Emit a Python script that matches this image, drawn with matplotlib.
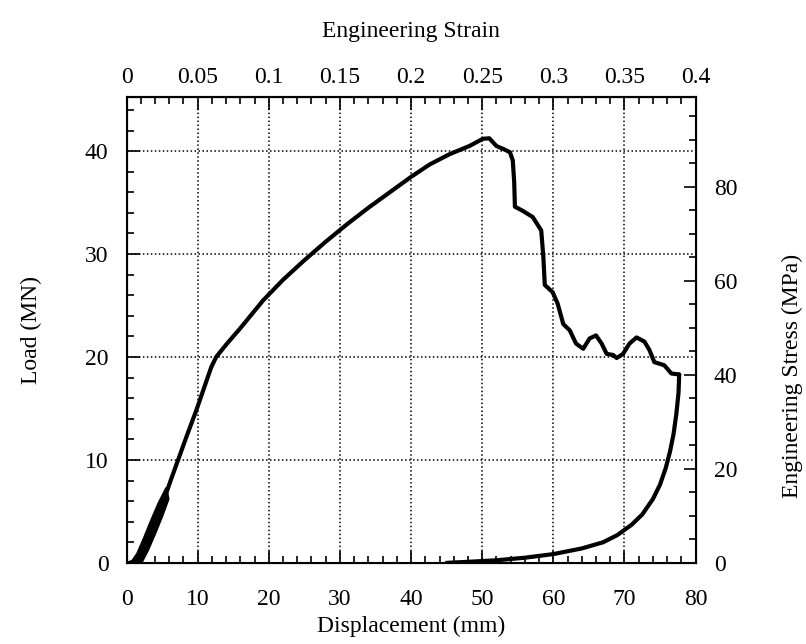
import numpy as np
import matplotlib
matplotlib.use("Agg")
import matplotlib.pyplot as plt

# loading-unloading record
band_left_disp = [0.0, 0.8, 1.5, 2.5, 3.5, 4.5, 5.6]
band_left_load = [0.0, 0.2, 0.9, 2.5, 4.2, 5.8, 7.3]
band_right_disp = [5.9, 5.0, 4.0, 3.0, 2.1]
band_right_load = [6.2, 4.5, 2.8, 1.2, 0.0]

disp_load = [5.0, 5.6, 6.2, 7.25, 8.5, 9.8, 11.0, 11.9, 12.6, 14.0, 16.0, 19.2,
             22.0, 25.0, 28.0, 31.0, 34.0, 37.0, 40.0, 42.6, 45.4, 48.2, 50.1,
             51.0, 52.0, 53.0, 53.9, 54.3, 54.5, 54.6, 55.7, 57.1, 58.3, 58.6,
             58.8, 59.9, 60.6, 61.4, 62.3, 63.2, 64.2, 65.1, 66.0, 66.8, 67.5,
             68.4, 68.9, 69.8, 70.7, 71.7, 72.8, 73.5, 74.2, 75.6, 76.6, 77.7]
load = [5.5, 6.8, 8.0, 10.0, 12.4, 14.8, 17.2, 19.0, 20.0, 21.2, 22.8, 25.5,
        27.5, 29.4, 31.2, 32.9, 34.5, 36.0, 37.5, 38.7, 39.7, 40.5, 41.2,
        41.25, 40.5, 40.2, 39.9, 39.1, 37.0, 34.6, 34.2, 33.6, 32.3, 29.7,
        27.0, 26.3, 25.2, 23.2, 22.6, 21.3, 20.8, 21.8, 22.1, 21.3, 20.3,
        20.2, 19.9, 20.3, 21.3, 21.9, 21.5, 20.7, 19.5, 19.2, 18.4, 18.3]

disp_unload = [77.7, 77.6, 77.3, 76.9, 76.4, 75.8, 75.0, 74.0, 72.5, 71.0,
               69.0, 67.0, 64.0, 60.0, 56.0, 52.0, 48.0, 45.0]
load_unload = [18.3, 16.5, 14.5, 12.5, 10.8, 9.2, 7.6, 6.2, 4.7, 3.7,
               2.7, 2.0, 1.4, 0.85, 0.5, 0.25, 0.1, 0.0]

LOAD_TOP = 45.3
MPA_PER_MN = 2.19
MM_PER_STRAIN = 200.0

plt.rcParams['font.family'] = ['Liberation Serif', 'DejaVu Serif']
plt.rcParams['font.size'] = 17

fig = plt.figure(figsize=(8.06, 6.44), dpi=100)
ax = fig.add_axes([0.157, 0.126, 0.706, 0.724])

band_x = band_left_disp + band_right_disp
band_y = band_left_load + band_right_load
ax.fill(band_x, band_y, color='black', lw=1.5)
ax.plot(disp_load, load, color='black', lw=3, solid_joinstyle='round',
        solid_capstyle='round')
ax.plot(disp_unload, load_unload, color='black', lw=3, solid_joinstyle='round',
        solid_capstyle='round')

ax.set_xlim(0, 80)
ax.set_ylim(0, LOAD_TOP)
ax.set_xticks(np.arange(0, 81, 10))
ax.set_xticks(np.arange(0, 81, 2), minor=True)
ax.set_yticks(np.arange(0, 41, 10))
ax.set_yticks(np.arange(0, 45, 2), minor=True)
ax.grid(True, which='major', color='black', linestyle=(0, (1, 1.6)), lw=1.1)
ax.tick_params(which='both', direction='in', top=False, right=False, width=1.2)
ax.tick_params(which='major', length=9)
ax.tick_params(which='minor', length=5)
ax.tick_params(axis='x', which='major', pad=19)
ax.tick_params(axis='y', which='major', pad=13)
ax.set_xlabel('Displacement (mm)', labelpad=4)
ax.set_ylabel('Load (MN)', labelpad=31)
for s in ax.spines.values():
    s.set_linewidth(1.5)

# right axis: engineering stress
ax2 = ax.twinx()
ax2.set_ylim(0, LOAD_TOP * MPA_PER_MN)
ax2.set_yticks(np.arange(0, 81, 20))
ax2.set_yticks(np.arange(0, 100, 5), minor=True)
ax2.tick_params(which='both', direction='in', width=1.2)
ax2.tick_params(which='major', length=9, pad=13)
ax2.tick_params(which='minor', length=5)
ax2.set_ylabel('Engineering Stress (MPa)')
ax2.yaxis.set_label_coords(1.152, 0.40)

# top axis: engineering strain
ax3 = ax.secondary_xaxis('top', functions=(lambda d: d / MM_PER_STRAIN,
                                           lambda e: e * MM_PER_STRAIN))
ax3.set_xticks(np.arange(0, 0.41, 0.05))
ax3.set_xticks(np.arange(0, 0.401, 0.01), minor=True)
ax3.set_xticklabels(['0', '0.05', '0.1', '0.15', '0.2', '0.25', '0.3', '0.35', '0.4'])
ax3.tick_params(which='both', direction='in', width=1.2)
ax3.tick_params(which='major', length=9, pad=6)
ax3.tick_params(which='minor', length=5)
ax3.set_xlabel('Engineering Strain', labelpad=22)
ax3.spines['top'].set_linewidth(1.5)

ax.set_yticklabels(['0', '10', '20', '30', '40'])
ax.set_xticklabels([str(v) for v in range(0, 81, 10)])
ax2.set_yticklabels(['0', '20', '40', '60', '80'])

fig.savefig('out.png', dpi=100)
